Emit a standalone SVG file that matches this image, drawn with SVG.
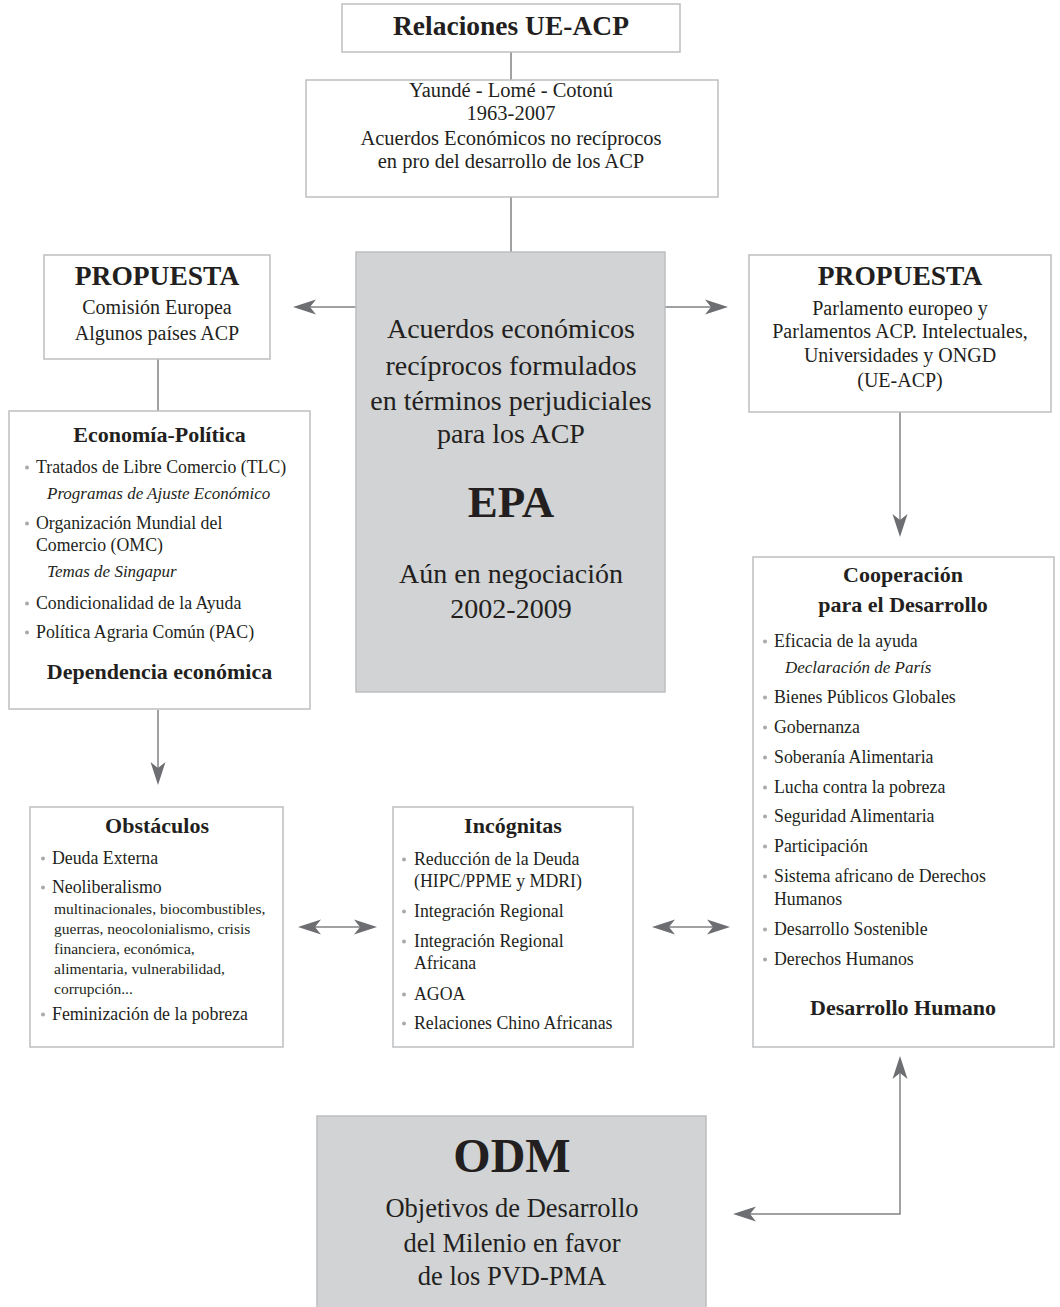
<svg xmlns="http://www.w3.org/2000/svg" width="1060" height="1307" viewBox="0 0 1060 1307">
<defs>
<style>
.box{fill:#ffffff;stroke:#bcbec0;stroke-width:1.5}
.gbox{fill:#d1d3d4;stroke:#bcbec0;stroke-width:1.5}
text{font-family:"Liberation Serif","Times New Roman",serif;fill:#231f20}
.c{text-anchor:middle}
.t1{font-size:27.5px;font-weight:bold}
.h{font-size:22px;font-weight:bold}
.m{font-size:20.5px}
.p{font-size:20px}
.big{font-size:28px}
.li{font-size:17.8px}
.it{font-size:17px;font-style:italic}
.sm{font-size:15.5px}
.epa{font-size:45px;font-weight:bold}
.odm{font-size:48px;font-weight:bold}
.ob{font-size:26.5px}
.dot{fill:#a7a9ac}
.ln{fill:none;stroke:#808285;stroke-width:1.5}
</style>
<marker id="ah" viewBox="-22 -9 26 18" refX="0" refY="0" markerWidth="26" markerHeight="18" markerUnits="userSpaceOnUse" orient="auto-start-reverse">
<path d="M3,0 L-20,-7.5 L-14,0 L-20,7.5 Z" fill="#6d6e71"/>
</marker>
</defs>

<g id="connectors">
<line class="ln" x1="511" y1="52" x2="511" y2="80"/>
<line class="ln" x1="511" y1="197" x2="511" y2="252"/>
<line class="ln" x1="356" y1="307" x2="296" y2="307" marker-end="url(#ah)"/>
<line class="ln" x1="665" y1="307" x2="725" y2="307" marker-end="url(#ah)"/>
<line class="ln" x1="158" y1="359" x2="158" y2="411"/>
<line class="ln" x1="158" y1="710" x2="158" y2="782" marker-end="url(#ah)"/>
<line class="ln" x1="900" y1="412" x2="900" y2="534" marker-end="url(#ah)"/>
<line class="ln" x1="301" y1="927" x2="374" y2="927" marker-start="url(#ah)" marker-end="url(#ah)"/>
<line class="ln" x1="655" y1="927" x2="727" y2="927" marker-start="url(#ah)" marker-end="url(#ah)"/>
<polyline class="ln" points="736,1214 900,1214 900,1059" marker-start="url(#ah)" marker-end="url(#ah)"/>
</g>

<g id="node-relaciones">
<rect class="box" x="342" y="4" width="338" height="48"/>
<text class="c t1" x="511" y="35">Relaciones UE-ACP</text>
</g>

<g id="node-historia">
<rect class="box" x="306" y="80" width="412" height="117"/>
<text class="c m" x="511" y="97">Yaundé - Lomé - Cotonú</text>
<text class="c m" x="511" y="120">1963-2007</text>
<text class="c m" x="511" y="145">Acuerdos Económicos no recíprocos</text>
<text class="c m" x="511" y="168">en pro del desarrollo de los ACP</text>
</g>

<g id="node-epa">
<rect class="gbox" x="356" y="252" width="309" height="440"/>
<text class="c big" x="511" y="338">Acuerdos económicos</text>
<text class="c big" x="511" y="375">recíprocos formulados</text>
<text class="c big" x="511" y="410">en términos perjudiciales</text>
<text class="c big" x="511" y="443">para los ACP</text>
<text class="c epa" x="511" y="517">EPA</text>
<text class="c big" x="511" y="583">Aún en negociación</text>
<text class="c big" x="511" y="618">2002-2009</text>
</g>

<g id="node-propuesta-izq">
<rect class="box" x="44" y="255" width="226" height="104"/>
<text class="c t1" x="157" y="285">PROPUESTA</text>
<text class="c p" x="157" y="314">Comisión Europea</text>
<text class="c p" x="157" y="340">Algunos países ACP</text>
</g>

<g id="node-economia">
<rect class="box" x="9" y="411" width="301" height="298"/>
<text class="c h" x="159.5" y="442">Economía-Política</text>
<circle class="dot" cx="27" cy="467.5" r="2"/>
<text class="li" x="36" y="473">Tratados de Libre Comercio (TLC)</text>
<text class="it" x="47" y="499">Programas de Ajuste Económico</text>
<circle class="dot" cx="27" cy="523.5" r="2"/>
<text class="li" x="36" y="529">Organización Mundial del</text>
<text class="li" x="36" y="551">Comercio (OMC)</text>
<text class="it" x="47" y="577">Temas de Singapur</text>
<circle class="dot" cx="27" cy="603.5" r="2"/>
<text class="li" x="36" y="609">Condicionalidad de la Ayuda</text>
<circle class="dot" cx="27" cy="632.5" r="2"/>
<text class="li" x="36" y="638">Política Agraria Común (PAC)</text>
<text class="c h" x="159.5" y="679">Dependencia económica</text>
</g>

<g id="node-propuesta-der">
<rect class="box" x="749" y="255" width="302" height="157"/>
<text class="c t1" x="900" y="285">PROPUESTA</text>
<text class="c p" x="900" y="315">Parlamento europeo y</text>
<text class="c p" x="900" y="338">Parlamentos ACP. Intelectuales,</text>
<text class="c p" x="900" y="362">Universidades y ONGD</text>
<text class="c p" x="900" y="387">(UE-ACP)</text>
</g>

<g id="node-cooperacion">
<rect class="box" x="753" y="557" width="301" height="490"/>
<text class="c h" x="903" y="582">Cooperación</text>
<text class="c h" x="903" y="612">para el Desarrollo</text>
<circle class="dot" cx="765" cy="641.5" r="2"/>
<text class="li" x="774" y="647">Eficacia de la ayuda</text>
<text class="it" x="785" y="673">Declaración de París</text>
<circle class="dot" cx="765" cy="697.5" r="2"/>
<text class="li" x="774" y="703">Bienes Públicos Globales</text>
<circle class="dot" cx="765" cy="727.5" r="2"/>
<text class="li" x="774" y="733">Gobernanza</text>
<circle class="dot" cx="765" cy="757.5" r="2"/>
<text class="li" x="774" y="763">Soberanía Alimentaria</text>
<circle class="dot" cx="765" cy="787.5" r="2"/>
<text class="li" x="774" y="793">Lucha contra la pobreza</text>
<circle class="dot" cx="765" cy="816.5" r="2"/>
<text class="li" x="774" y="822">Seguridad Alimentaria</text>
<circle class="dot" cx="765" cy="846.5" r="2"/>
<text class="li" x="774" y="852">Participación</text>
<circle class="dot" cx="765" cy="876.5" r="2"/>
<text class="li" x="774" y="882">Sistema africano de Derechos</text>
<text class="li" x="774" y="905">Humanos</text>
<circle class="dot" cx="765" cy="929.5" r="2"/>
<text class="li" x="774" y="935">Desarrollo Sostenible</text>
<circle class="dot" cx="765" cy="959.5" r="2"/>
<text class="li" x="774" y="965">Derechos Humanos</text>
<text class="c h" x="903" y="1015">Desarrollo Humano</text>
</g>

<g id="node-obstaculos">
<rect class="box" x="30" y="807" width="253" height="240"/>
<text class="c h" x="157" y="833">Obstáculos</text>
<circle class="dot" cx="43" cy="858.5" r="2"/>
<text class="li" x="52" y="864">Deuda Externa</text>
<circle class="dot" cx="43" cy="887.5" r="2"/>
<text class="li" x="52" y="893">Neoliberalismo</text>
<text class="sm" x="54" y="914">multinacionales, biocombustibles,</text>
<text class="sm" x="54" y="934">guerras, neocolonialismo, crisis</text>
<text class="sm" x="54" y="954">financiera, económica,</text>
<text class="sm" x="54" y="974">alimentaria, vulnerabilidad,</text>
<text class="sm" x="54" y="994">corrupción...</text>
<circle class="dot" cx="43" cy="1014.5" r="2"/>
<text class="li" x="52" y="1020">Feminización de la pobreza</text>
</g>

<g id="node-incognitas">
<rect class="box" x="393" y="807" width="240" height="240"/>
<text class="c h" x="513" y="833">Incógnitas</text>
<circle class="dot" cx="404" cy="859.5" r="2"/>
<text class="li" x="414" y="865">Reducción de la Deuda</text>
<text class="li" x="414" y="887">(HIPC/PPME y MDRI)</text>
<circle class="dot" cx="404" cy="911.5" r="2"/>
<text class="li" x="414" y="917">Integración Regional</text>
<circle class="dot" cx="404" cy="941.5" r="2"/>
<text class="li" x="414" y="947">Integración Regional</text>
<text class="li" x="414" y="969">Africana</text>
<circle class="dot" cx="404" cy="994.5" r="2"/>
<text class="li" x="414" y="1000">AGOA</text>
<circle class="dot" cx="404" cy="1023.5" r="2"/>
<text class="li" x="414" y="1029">Relaciones Chino Africanas</text>
</g>

<g id="node-odm">
<rect class="gbox" x="317" y="1116" width="389" height="200"/>
<text class="c odm" x="512" y="1172">ODM</text>
<text class="c ob" x="512" y="1217">Objetivos de Desarrollo</text>
<text class="c ob" x="512" y="1252">del Milenio en favor</text>
<text class="c ob" x="512" y="1285">de los PVD-PMA</text>
</g>
</svg>
